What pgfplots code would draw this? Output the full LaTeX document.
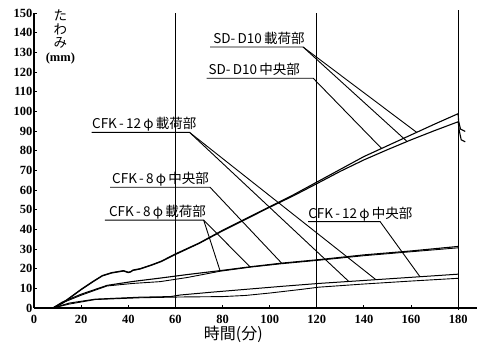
\documentclass[border=0pt]{standalone}
\usepackage{fontspec}
\setmainfont{Liberation Serif}
\newfontfamily\jp{Noto Sans CJK JP}
\usepackage{pgfplots}
\pgfplotsset{compat=1.18}
\begin{document}
\begin{tikzpicture}
\path (-34pt,-37pt) rectangle (445pt,308pt);
\begin{axis}[
  at={(0,0)}, anchor=south west,
  scale only axis, width=443pt, height=295pt,
  xmin=0, xmax=188, ymin=0, ymax=150,
  axis x line=bottom, axis y line=left,
  axis line style={-, line width=1.5pt},
  xtick={0,20,...,180}, ytick={0,10,...,150},
  tick align=inside, major tick length=3pt,
  tick style={black, line width=0.8pt},
  ticklabel style={font=\fontsize{12.5}{12.5}\selectfont\bfseries},
  xticklabel style={yshift=-3.5pt},
  yticklabel style={xshift=2pt},
  /pgf/number format/assume math mode=true,
  clip=false,
]
% vertical reference lines
\addplot[black, line width=0.8pt] coordinates {(60,0) (60,150)};
\addplot[black, line width=0.8pt] coordinates {(120,0) (120,150)};
\addplot[black, line width=0.8pt] coordinates {(180,-1) (180,151.5)};

% SD-D10 loading
\addplot[black, line width=1.1pt] coordinates {
(0,0) (8,0) (12,2.5) (16,6) (20,9.5) (25,13.5) (29,16.5) (33,18) (38,19) (40,18.2) (41,18.5) (42,19.3) (45,20) (50,22) (54,23.8) (60,27.5) (70,33) (80,39.5) (90,45.5) (100,51.5) (110,57.5) (120,64) (130,70.5) (140,77) (150,82.5) (160,88) (170,93.5) (180,98.8) (180.2,95) (181,91) (183,89.8)};
% SD-D10 centre
\addplot[black, line width=1.1pt] coordinates {
(0,0) (8,0) (12,2.3) (16,5.8) (20,9.3) (25,13.3) (29,16.3) (33,17.8) (38,18.8) (40,18) (41,18.3) (42,19.1) (45,19.8) (50,21.8) (54,23.6) (60,27.2) (70,32.8) (80,39.2) (90,45.2) (100,51.2) (110,57) (120,63.2) (130,69.5) (140,75.3) (150,80.5) (160,85.5) (170,90.2) (180,94.7) (180.5,90) (181.3,85.5) (183,84.5)};
% CFK-8 centre
\addplot[black, line width=1.1pt] coordinates {
(0,0) (8,0) (12,3) (20,7) (31,11.5) (42,13.5) (53.5,15.2) (65,17) (79,19) (92,21) (105,22.8) (121,24.6) (140,27) (160,29) (180,31.3)};
% CFK-8 loading
\addplot[black, line width=0.9pt] coordinates {
(0,0) (8,0) (12,2.6) (20,6.5) (31,11.2) (42,12.5) (53.5,13.4) (65,15.5) (79,18.7) (92,20.8) (105,22.5) (121,24.3) (140,26.6) (160,28.6) (180,30.6)};
% CFK-12 A
\addplot[black, line width=1.0pt] coordinates {
(0,0) (8,0) (15,2.5) (26,4.5) (45,5.5) (58,5.8) (62,6.6) (75,8) (90,9.5) (105,11) (121,12.5) (140,14) (160,15.6) (180,17.2)};
% CFK-12 B
\addplot[black, line width=0.9pt] coordinates {
(0,0) (8,0) (15,2) (26,4.3) (45,5.2) (62,5.6) (80,5.8) (90,6.4) (100,7.6) (113,9.4) (121,10.6) (140,12.2) (160,13.7) (180,15.1)};

% labels
\tikzset{lab/.style={font=\jp\fontsize{13.5}{13.5}\selectfont, anchor=base west, inner sep=0pt}}
\node[lab] at (axis cs:76,134.5) {SD-\,D10\,載荷部};
\draw[line width=0.9pt] (axis cs:74.7,132.7) -- (axis cs:114.2,132.7) -- (axis cs:162.4,89.3);
\draw[line width=0.9pt] (axis cs:114.2,132.7) -- (axis cs:158.2,84.8);

\node[lab] at (axis cs:74,118.6) {SD-\,D10\,中央部};
\draw[line width=0.9pt] (axis cs:73.3,116.8) -- (axis cs:118.5,116.8) -- (axis cs:147.6,81);

\node[lab] at (axis cs:24.6,91.1) {CFK\,-\,12\,φ\,載荷部};
\draw[line width=0.9pt] (axis cs:24.5,89.3) -- (axis cs:66,89.3) -- (axis cs:133.5,13.6);
\draw[line width=0.9pt] (axis cs:66,89.3) -- (axis cs:145,14.5);

\node[lab] at (axis cs:33.1,63.2) {CFK\,-\,8\,φ\,中央部};
\draw[line width=0.9pt] (axis cs:32.3,61.4) -- (axis cs:74.7,61.4) -- (axis cs:105.1,22.8);

\node[lab] at (axis cs:31.8,46.5) {CFK\,-\,8\,φ\,載荷部};
\draw[line width=0.9pt] (axis cs:30.1,44.7) -- (axis cs:72,44.7) -- (axis cs:79,18.8);
\draw[line width=0.9pt] (axis cs:72,44.7) -- (axis cs:91.7,20.9);

\node[lab] at (axis cs:116.3,45.7) {CFK\,-\,12\,φ\,中央部};
\draw[line width=0.9pt] (axis cs:116.3,43.9) -- (axis cs:146.9,43.9) -- (axis cs:163.8,15.9);

% axis titles
\node[font=\jp\fontsize{13.5}{13.5}\selectfont, inner sep=0pt] at (axis cs:11.2,148.7) {た};
\node[font=\jp\fontsize{13.5}{13.5}\selectfont, inner sep=0pt] at (axis cs:11.2,141.8) {わ};
\node[font=\jp\fontsize{13.5}{13.5}\selectfont, inner sep=0pt] at (axis cs:11.2,134.8) {み};
\node[font=\fontsize{12.5}{12.5}\selectfont\bfseries, inner sep=0pt] at (axis cs:11.2,127) {(mm)};
\node[font=\jp\fontsize{16}{16}\selectfont, inner sep=0pt] at (axis cs:84.6,-13.2) {時間(分)};
\end{axis}
\end{tikzpicture}
\end{document}
